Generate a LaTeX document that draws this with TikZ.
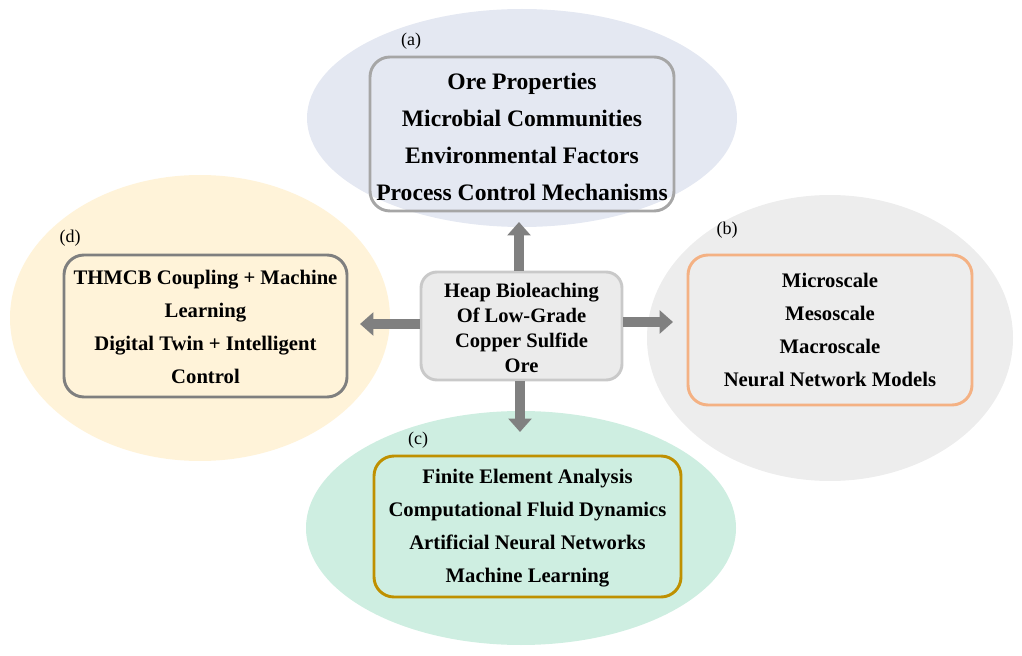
\documentclass[tikz,border=0pt]{standalone}
\usepackage{fontspec}
\setmainfont{Liberation Serif}
\usetikzlibrary{arrows.meta}
\definecolor{ella}{HTML}{E4E8F2}
\definecolor{elld}{HTML}{FFF3D9}
\definecolor{ellb}{HTML}{EDEDED}
\definecolor{ellc}{HTML}{CEEEE1}
\definecolor{boxa}{HTML}{A6A6A6}
\definecolor{boxd}{HTML}{7F7F7F}
\definecolor{boxb}{HTML}{F4B183}
\definecolor{boxc}{HTML}{BF9000}
\definecolor{hubfill}{HTML}{EBEBEB}
\definecolor{hubline}{HTML}{C9C9C9}
\definecolor{arrowgray}{HTML}{808080}
\tikzset{
  topicbox/.style={draw, line width=2.2pt, rounded corners=15pt, align=center, inner sep=0pt, font=\bfseries\fontsize{15.5}{24.75}\selectfont},
  hub/.style={draw=hubline, fill=hubfill, line width=2.2pt, rounded corners=12pt, align=center, inner sep=0pt, font=\bfseries\fontsize{15.4}{18.75}\selectfont},
  bigarrow/.style={draw=arrowgray, line width=7.5pt, -{Triangle[width=17pt,length=10pt]}, arrowgray},
  tag/.style={font=\fontsize{13.5}{15}\selectfont, inner sep=0pt}
}
\begin{document}
\begin{tikzpicture}[x=0.75pt,y=-0.75pt]
\useasboundingbox (0,0) rectangle (1022,656);
% ellipses
\fill[ella] (522,118) ellipse [x radius=215, y radius=109];
\fill[elld] (200,318) ellipse [x radius=190, y radius=143];
\fill[ellb] (830,338) ellipse [x radius=183, y radius=143];
\fill[ellc] (521,528) ellipse [x radius=215, y radius=117];
% boxes
\node[topicbox, draw=boxa, minimum width=228pt, minimum height=115.5pt, font=\bfseries\fontsize{17.7}{27.75}\selectfont] (a) at (522,134)
  {\rule{0pt}{16.2pt}Ore Properties\\Microbial Communities\\Environmental Factors\\Process Control Mechanisms};
\node[hub, minimum width=150.75pt, minimum height=81pt] (hub) at (521.5,326)
  {\rule{0pt}{13pt}Heap Bioleaching\\Of Low-Grade\\Copper Sulfide\\Ore};
\node[topicbox, draw=boxd, minimum width=212.25pt, minimum height=106.5pt] (d) at (205.5,326)
  {\rule{0pt}{12.5pt}THMCB Coupling + Machine\\Learning\\Digital Twin + Intelligent\\Control};
\node[topicbox, draw=boxb, minimum width=213pt, minimum height=112.5pt] (b) at (830,330)
  {Microscale\\Mesoscale\\Macroscale\\Neural Network Models};
\node[topicbox, draw=boxc, minimum width=230.25pt, minimum height=105.75pt] (c) at (527.5,526.5)
  {\rule{0pt}{13.5pt}Finite Element Analysis\\Computational Fluid Dynamics\\Artificial Neural Networks\\Machine Learning};
% labels
\node[tag] (la) at (411,41) {(a)};
\node[tag] (lb) at (727,230) {(b)};
\node[tag] (lc) at (418,440) {(c)};
\node[tag] (ld) at (70,238) {(d)};
% arrow tips
\coordinate (tipa) at (519,222);
\coordinate (tipb) at (673,322);
\coordinate (tipc) at (520,432);
\coordinate (tipd) at (360,324);
\draw[bigarrow] (hub.north -| tipa) -- (tipa);
\draw[bigarrow] (hub.east |- tipb) -- (tipb);
\draw[bigarrow] (hub.south -| tipc) -- (tipc);
\draw[bigarrow] (hub.west |- tipd) -- (tipd);
\end{tikzpicture}
\end{document}
